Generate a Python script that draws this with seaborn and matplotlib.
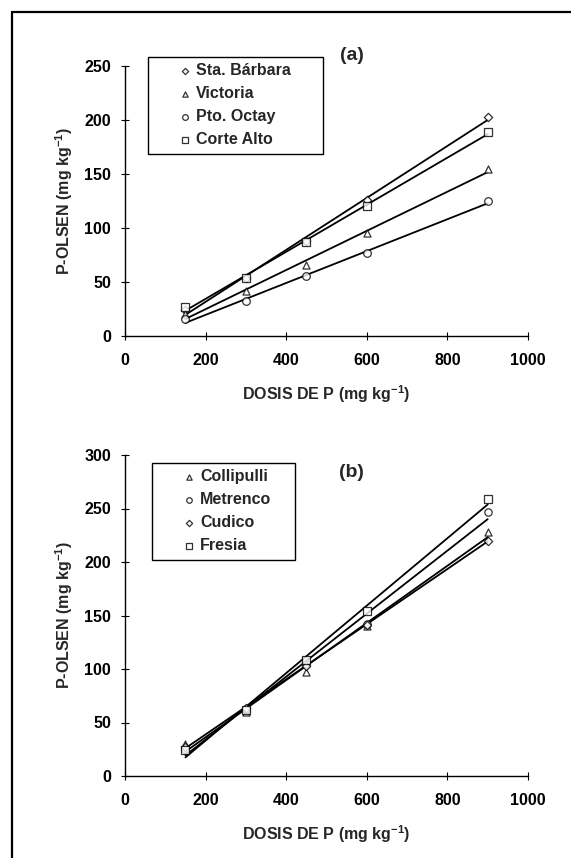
import numpy as np
import pandas as pd
import matplotlib
matplotlib.use("Agg")
import matplotlib.pyplot as plt
import seaborn as sns
from matplotlib.lines import Line2D

# ---------------- data ----------------
dosis = [150, 300, 450, 600, 900]

a_series = ["Sta. Bárbara", "Victoria", "Pto. Octay", "Corte Alto"]
a_sta_barbara = [24, 54, 88, 126, 203]
a_victoria = [20, 42, 66, 95, 155]
a_pto_octay = [15.5, 32, 55.5, 76.5, 125]
a_corte_alto = [27, 54, 87, 120, 189]

b_series = ["Collipulli", "Metrenco", "Cudico", "Fresia"]
b_collipulli = [30, 60, 97, 140, 228]
b_metrenco = [25, 63, 105, 142, 247]
b_cudico = [27, 64, 103, 141, 220]
b_fresia = [24, 62, 108, 154, 259]

x_ticks = [0, 200, 400, 600, 800, 1000]
a_yticks = [0, 50, 100, 150, 200, 250]
b_yticks = [0, 50, 100, 150, 200, 250, 300]

# ---------------- style ----------------
sns.set_theme(style="ticks")
plt.rcParams["font.family"] = ["Liberation Sans", "DejaVu Sans"]
plt.rcParams["font.weight"] = "bold"
plt.rcParams["axes.labelweight"] = "bold"
plt.rcParams["mathtext.fontset"] = "custom"
plt.rcParams["mathtext.rm"] = "Liberation Sans:bold"
plt.rcParams["mathtext.default"] = "rm"

W, H = 571, 858
fig = plt.figure(figsize=(W / 100, H / 100), dpi=100)
fig.patch.set_facecolor("white")

def fx(px):
    return px / W

def fy(py):
    return 1 - py / H

ax_a = fig.add_axes([fx(125), fy(336), fx(528) - fx(125), fy(66) - fy(336)])
ax_b = fig.add_axes([fx(125), fy(776), fx(528) - fx(125), fy(455) - fy(776)])

markers_a = ["D", "^", "o", "s"]
sizes_a = [18, 26, 30, 30]
markers_b = ["^", "o", "D", "s"]
sizes_b = [26, 28, 18, 30]

def draw(ax, names, series, markers, sizes):
    for name, vals, m, s in zip(names, series, markers, sizes):
        df = pd.DataFrame({"dosis": dosis, "polsen": vals})
        sns.regplot(data=df, x="dosis", y="polsen", ax=ax, ci=None, truncate=True,
                    marker=m, color="black", label=name,
                    scatter_kws=dict(s=s, facecolors="white", edgecolors="black",
                                     linewidths=0.9, zorder=3),
                    line_kws=dict(color="black", lw=1.3, zorder=2))

draw(ax_a, a_series, [a_sta_barbara, a_victoria, a_pto_octay, a_corte_alto], markers_a, sizes_a)
draw(ax_b, b_series, [b_collipulli, b_metrenco, b_cudico, b_fresia], markers_b, sizes_b)

for ax, yt, ymax in [(ax_a, a_yticks, 250), (ax_b, b_yticks, 300)]:
    ax.set_xlim(0, 1000)
    ax.set_ylim(0, ymax)
    ax.set_xticks(x_ticks)
    ax.set_yticks(yt)
    ax.set_facecolor("white")
    for sp in ["top", "right"]:
        ax.spines[sp].set_visible(False)
    for sp in ["left", "bottom"]:
        ax.spines[sp].set_color("black")
        ax.spines[sp].set_linewidth(1.0)
    ax.tick_params(axis="both", direction="inout", length=6, width=0.8,
                   colors="black", labelsize=11.5)
    ax.tick_params(axis="x", pad=9)
    ax.tick_params(axis="y", pad=7)
    ax.set_xlabel("DOSIS DE P (mg kg$^{-1}$)", fontsize=11.5, labelpad=11)
    ax.set_ylabel("P-OLSEN (mg kg$^{-1}$)", fontsize=11.5, labelpad=7)

leg_kw = dict(loc="upper left", mode="expand", borderaxespad=0, frameon=True,
              fancybox=False, edgecolor="black", framealpha=1, fontsize=11.5,
              borderpad=0.4, handlelength=3.8, handletextpad=-1.2,
              labelspacing=0.5, markerscale=0.75, scatterpoints=1)
la = ax_a.legend(bbox_to_anchor=(0.057, 0.637, 0.434, 0.396), **leg_kw)
lb = ax_b.legend(bbox_to_anchor=(0.067, 0.664, 0.355, 0.311), **leg_kw)
for lg in (la, lb):
    lg.get_frame().set_linewidth(1.0)

ax_a.text(0.563, 1.04, "(a)", transform=ax_a.transAxes, ha="center", va="center",
          fontsize=14, fontweight="bold")
ax_b.text(0.563, 0.944, "(b)", transform=ax_b.transAxes, ha="center", va="center",
          fontsize=14, fontweight="bold")

# page frame (scan border)
fig.add_artist(Line2D([fx(12), 1], [fy(12), fy(12)], transform=fig.transFigure,
                      color="black", lw=1.6))
fig.add_artist(Line2D([fx(12), fx(12)], [fy(12), 0], transform=fig.transFigure,
                      color="black", lw=1.6))

fig.savefig("out.png", dpi=100, facecolor="white")
